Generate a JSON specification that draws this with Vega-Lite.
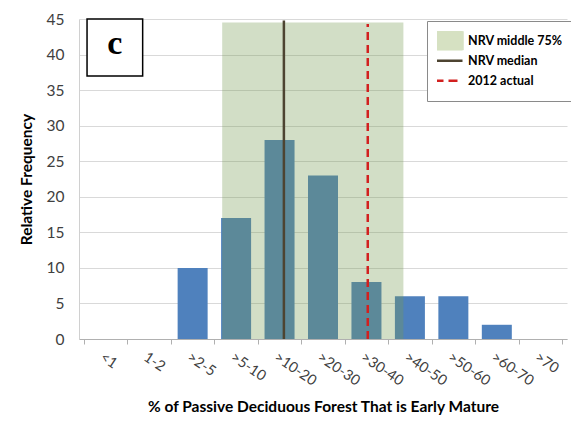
{
  "$schema": "https://vega.github.io/schema/vega-lite/v6.json",
  "width": 488,
  "height": 320,
  "autosize": {"type": "none"},
  "padding": {"left": 79, "top": 19, "right": 4, "bottom": 82},
  "background": "white",
  "config": {
    "view": {"stroke": null},
    "font": "Lato",
    "axis": {"labelFont": "Lato", "titleFont": "Lato"},
    "axisY": {
      "grid": true,
      "gridColor": "#d9d9d9",
      "ticks": false,
      "domainColor": "#d0d0d0",
      "labelPadding": 15,
      "labelFontSize": 15.5,
      "labelColor": "#404040",
      "titleFontSize": 15.5,
      "titleFontWeight": "bold",
      "titleColor": "#000000",
      "titlePadding": 12
    },
    "legend": {
      "labelFont": "Lato",
      "labelFontSize": 12.5,
      "labelFontWeight": "bold",
      "labelColor": "#000000",
      "strokeColor": "#8a8a8a",
      "fillColor": "#ffffff",
      "padding": 10,
      "symbolSize": 400,
      "labelOffset": 8,
      "rowPadding": 0,
      "clipHeight": 19.5
    }
  },
  "layer": [
    {
      "data": {"values": [
        {"cat": "<1", "pos": 0.5, "freq": 0},
        {"cat": "1-2", "pos": 1.5, "freq": 0},
        {"cat": ">2-5", "pos": 2.5, "freq": 10},
        {"cat": ">5-10", "pos": 3.5, "freq": 17},
        {"cat": ">10-20", "pos": 4.5, "freq": 28},
        {"cat": ">20-30", "pos": 5.5, "freq": 23},
        {"cat": ">30-40", "pos": 6.5, "freq": 8},
        {"cat": ">40-50", "pos": 7.5, "freq": 6},
        {"cat": ">50-60", "pos": 8.5, "freq": 6},
        {"cat": ">60-70", "pos": 9.5, "freq": 2},
        {"cat": ">70", "pos": 10.5, "freq": 0}
      ]},
      "mark": {"type": "bar", "width": 30, "color": "#4f81bd"},
      "encoding": {
        "x": {
          "field": "pos", "type": "quantitative",
          "scale": {"domain": [0, 11], "nice": false, "zero": false},
          "axis": {
            "values": [0, 1, 2, 3, 4, 5, 6, 7, 8, 9, 10, 11],
            "labelExpr": "['<1','1-2','>2-5','>5-10','>10-20','>20-30','>30-40','>40-50','>50-60','>60-70','>70',''][datum.value]",
            "grid": false,
            "tickSize": 5,
            "tickColor": "#b0b0b0",
            "domainColor": "#b0b0b0",
            "labelAngle": 34,
            "labelAlign": "left",
            "labelBaseline": "top",
            "labelOffset": 21,
            "labelPadding": 6,
            "labelFontSize": 14.5,
            "labelColor": "#404040",
            "labelFlush": false,
            "labelOverlap": false,
            "title": "% of Passive Deciduous Forest That is Early Mature",
            "titleFontSize": 15.5,
            "titleFontWeight": "bold",
            "titleColor": "#000000",
            "titlePadding": 12
          }
        },
        "y": {
          "field": "freq", "type": "quantitative",
          "scale": {"domain": [0, 45], "nice": false},
          "axis": {"values": [0, 5, 10, 15, 20, 25, 30, 35, 40, 45], "title": "Relative Frequency"}
        }
      }
    },
    {
      "data": {"values": [
        {"series": "NRV middle 75%", "start": 3.18, "end": 7.35, "lo": 0, "hi": 44.5}
      ]},
      "layer": [
        {
          "mark": {"type": "rect", "opacity": 0.33, "color": "#779b52"},
          "encoding": {
            "x": {"field": "start", "type": "quantitative"},
            "x2": {"field": "end"},
            "y": {"field": "lo", "type": "quantitative", "axis": {"values": [0, 5, 10, 15, 20, 25, 30, 35, 40, 45], "title": "Relative Frequency"}},
            "y2": {"field": "hi"}
          }
        },
        {
          "mark": {"type": "rect", "opacity": 0},
          "encoding": {
            "x": {"field": "start", "type": "quantitative"},
            "x2": {"field": "end"},
            "y": {"field": "lo", "type": "quantitative", "axis": {"values": [0, 5, 10, 15, 20, 25, 30, 35, 40, 45], "title": "Relative Frequency"}},
            "y2": {"field": "hi"},
            "color": {
              "field": "series", "type": "nominal",
              "scale": {
                "domain": ["NRV middle 75%", "NRV median", "2012 actual"],
                "range": ["#d6e1c2", "#4d4431", "#d2201f"]
              },
              "legend": {
                "orient": "none", "legendX": 348, "legendY": 2, "title": null,
                "encode": {
                  "symbols": {
                    "update": {
                      "shape": {"signal": "datum.value === 'NRV middle 75%' ? 'M-1.4,-0.95H1.4V0.95H-1.4Z' : 'M-1.4,0H1.4'"},
                      "stroke": {"signal": "datum.value === 'NRV middle 75%' ? 'transparent' : (datum.value === 'NRV median' ? '#4d4431' : '#d2201f')"},
                      "strokeDash": {"signal": "datum.value === '2012 actual' ? [9, 5] : [1, 0]"},
                      "strokeWidth": {"value": 2.5},
                      "opacity": {"value": 1},
                      "fillOpacity": {"value": 1},
                      "strokeOpacity": {"value": 1}
                    }
                  }
                }
              }
            }
          }
        }
      ]
    },
    {
      "data": {"values": [
        {"series": "NRV median", "pos": 4.6, "lo": 0, "hi": 44.8}
      ]},
      "mark": {"type": "rule", "strokeWidth": 2.5},
      "encoding": {
        "x": {"field": "pos", "type": "quantitative"},
        "y": {"field": "lo", "type": "quantitative", "axis": {"values": [0, 5, 10, 15, 20, 25, 30, 35, 40, 45], "title": "Relative Frequency"}},
        "y2": {"field": "hi"},
        "color": {
          "field": "series", "type": "nominal",
          "legend": {
            "orient": "none", "legendX": 348, "legendY": 2, "title": null,
            "encode": {
              "symbols": {
                "update": {
                  "shape": {"signal": "datum.value === 'NRV middle 75%' ? 'M-1.4,-0.95H1.4V0.95H-1.4Z' : 'M-1.4,0H1.4'"},
                  "stroke": {"signal": "datum.value === 'NRV middle 75%' ? 'transparent' : (datum.value === 'NRV median' ? '#4d4431' : '#d2201f')"},
                  "strokeDash": {"signal": "datum.value === '2012 actual' ? [9, 5] : [1, 0]"},
                  "strokeWidth": {"value": 2.5},
                  "opacity": {"value": 1},
                  "fillOpacity": {"value": 1},
                  "strokeOpacity": {"value": 1}
                }
              }
            }
          }
        }
      }
    },
    {
      "data": {"values": [
        {"series": "2012 actual", "pos": 6.53, "lo": 0, "hi": 44.3}
      ]},
      "mark": {"type": "rule", "strokeWidth": 2.5, "strokeDash": [8, 5]},
      "encoding": {
        "x": {"field": "pos", "type": "quantitative"},
        "y": {"field": "lo", "type": "quantitative", "axis": {"values": [0, 5, 10, 15, 20, 25, 30, 35, 40, 45], "title": "Relative Frequency"}},
        "y2": {"field": "hi"},
        "color": {
          "field": "series", "type": "nominal",
          "legend": {
            "orient": "none", "legendX": 348, "legendY": 2, "title": null,
            "encode": {
              "symbols": {
                "update": {
                  "shape": {"signal": "datum.value === 'NRV middle 75%' ? 'M-1.4,-0.95H1.4V0.95H-1.4Z' : 'M-1.4,0H1.4'"},
                  "stroke": {"signal": "datum.value === 'NRV middle 75%' ? 'transparent' : (datum.value === 'NRV median' ? '#4d4431' : '#d2201f')"},
                  "strokeDash": {"signal": "datum.value === '2012 actual' ? [9, 5] : [1, 0]"},
                  "strokeWidth": {"value": 2.5},
                  "opacity": {"value": 1},
                  "fillOpacity": {"value": 1},
                  "strokeOpacity": {"value": 1}
                }
              }
            }
          }
        }
      }
    },
    {
      "data": {"values": [
        {"label": "c", "x1": 0.07, "x2": 1.35, "y1": 37, "y2": 45, "xc": 0.71, "yc": 41}
      ]},
      "layer": [
        {
          "mark": {"type": "rect", "fill": "#ffffff", "stroke": "#000000", "strokeWidth": 1.5},
          "encoding": {
            "x": {"field": "x1", "type": "quantitative"},
            "x2": {"field": "x2"},
            "y": {"field": "y1", "type": "quantitative", "axis": {"values": [0, 5, 10, 15, 20, 25, 30, 35, 40, 45], "title": "Relative Frequency"}},
            "y2": {"field": "y2"}
          }
        },
        {
          "mark": {"type": "text", "font": "Liberation Serif", "fontWeight": "bold", "fontSize": 34, "color": "#000000", "baseline": "middle", "align": "center", "dy": -3},
          "encoding": {
            "x": {"field": "xc", "type": "quantitative"},
            "y": {"field": "yc", "type": "quantitative", "axis": {"values": [0, 5, 10, 15, 20, 25, 30, 35, 40, 45], "title": "Relative Frequency"}},
            "text": {"field": "label"}
          }
        }
      ]
    }
  ]
}
